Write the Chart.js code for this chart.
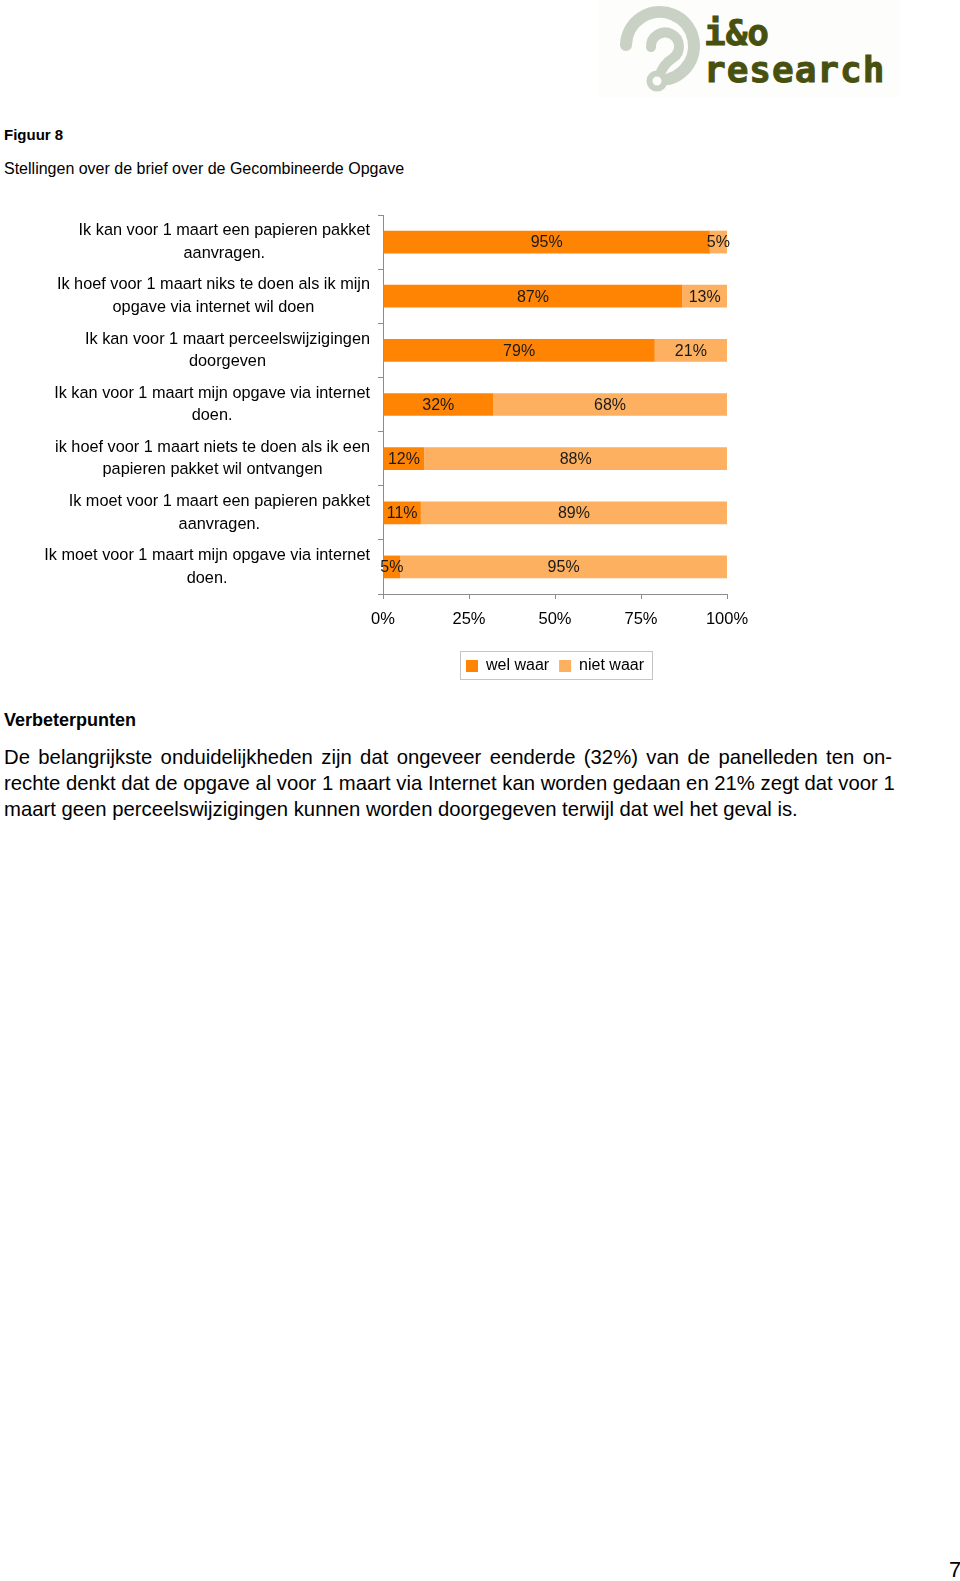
<!DOCTYPE html>
<html><head><meta charset="utf-8">
<script src="https://cdn.jsdelivr.net/npm/chart.js@4.4.0/dist/chart.umd.min.js"></script>
<style>
html,body{margin:0;padding:0;background:#fff;}
body{width:960px;height:1581px;position:relative;overflow:hidden;font-family:"Liberation Sans",Arial,sans-serif;color:#000;}
.t{position:absolute;left:4px;white-space:nowrap;}
#fig{top:125px;font-size:15px;font-weight:bold;line-height:20px;}
#sub{top:159px;font-size:16px;line-height:20px;}
#verb{top:709px;font-size:18px;font-weight:bold;line-height:22px;}
.pl{position:absolute;left:4px;width:888px;font-size:20.3px;line-height:25px;white-space:nowrap;}
.just{text-align:justify;text-align-last:justify;}
#p1{top:745px;} #p2{top:771px;} #p3{top:797px;}
#pg{position:absolute;left:949px;top:1557px;font-size:22px;line-height:26px;}
#logo{position:absolute;left:598px;top:0;width:302px;height:97px;background:#fdfdfb;}
#chartWrap{position:absolute;left:0;top:200px;width:760px;height:490px;}
</style>
</head><body>
<div id="logo">
<svg width="302" height="97" viewBox="598 0 302 97" xmlns="http://www.w3.org/2000/svg">
  <g fill="none" stroke="#c8d1c4" stroke-linecap="round">
    <path d="M626 45 A34 34 0 1 1 684 70 Q677 77 669 79" stroke-width="12"/>
    <path d="M651 47 A14 14 0 1 1 673 58 Q664 64 661 72" stroke-width="10"/>
    <circle cx="657" cy="81" r="7.5" stroke-width="6"/>
  </g>
  <g font-family="DejaVu Sans Mono, monospace" font-weight="bold" font-size="36" fill="#47500f" stroke="#47500f" stroke-width="0.9">
    <text x="704" y="45">i&amp;o</text>
    <text x="704" y="82" letter-spacing="1">research</text>
  </g>
</svg>
</div>
<div class="t" id="fig">Figuur 8</div>
<div class="t" id="sub">Stellingen over de brief over de Gecombineerde Opgave</div>
<div id="chartWrap"><canvas id="c" width="760" height="490"></canvas></div>
<div class="t" id="verb">Verbeterpunten</div>
<div class="pl just" id="p1">De belangrijkste onduidelijkheden zijn dat ongeveer eenderde (32%) van de panelleden ten on-</div>
<div class="pl just" id="p2">rechte denkt dat de opgave al voor 1 maart via Internet kan worden gedaan en 21% zegt dat voor 1</div>
<div class="pl" id="p3">maart geen perceelswijzigingen kunnen worden doorgegeven terwijl dat wel het geval is.</div>
<div id="pg">7</div>
<script>
const categories = [
  ["Ik kan voor 1 maart een papieren pakket", "aanvragen."],
  ["Ik hoef voor 1 maart niks te doen als ik mijn", "opgave via internet wil doen"],
  ["Ik kan voor 1 maart perceelswijzigingen", "doorgeven"],
  ["Ik kan voor 1 maart mijn opgave via internet", "doen."],
  ["ik hoef voor 1 maart niets te doen als ik een", "papieren pakket wil ontvangen"],
  ["Ik moet voor 1 maart een papieren pakket", "aanvragen."],
  ["Ik moet voor 1 maart mijn opgave via internet", "doen."]
];
const welWaar = [95, 87, 79, 32, 12, 11, 5];
const nietWaar = [5, 13, 21, 68, 88, 89, 95];
const xTickValues = [0, 25, 50, 75, 100];
const seriesNames = ["wel waar", "niet waar"];

const FAM = '"Liberation Sans", Arial, sans-serif';
const AXIS = '#8c8c8c';

const catLabelPlugin = {
  id: 'catLabels',
  afterDraw(chart) {
    const ctx = chart.ctx, ys = chart.scales.y;
    ctx.save();
    ctx.font = '16.3px ' + FAM;
    ctx.fillStyle = '#000';
    ctx.textAlign = 'center';
    ctx.textBaseline = 'middle';
    const right = ys.right - 13;
    chart.data.labels.forEach((lines, i) => {
      const yc = ys.getPixelForValue(i);
      const w = Math.max(...lines.map(l => ctx.measureText(l).width));
      const cx = right - w / 2;
      lines.forEach((l, j) => ctx.fillText(l, cx, yc + (j - (lines.length - 1) / 2) * 22.5));
    });
    ctx.restore();
  }
};

const valueLabelPlugin = {
  id: 'valueLabels',
  afterDatasetsDraw(chart) {
    const ctx = chart.ctx;
    ctx.save();
    ctx.font = '16px ' + FAM;
    ctx.fillStyle = '#1a1a1a';
    ctx.textAlign = 'center';
    ctx.textBaseline = 'middle';
    chart.data.datasets.forEach((ds, di) => {
      const meta = chart.getDatasetMeta(di);
      meta.data.forEach((el, i) => {
        ctx.fillText(ds.data[i] + '%', (el.x + el.base) / 2, el.y + 1);
      });
    });
    ctx.restore();
  }
};

const legendBoxPlugin = {
  id: 'legendBox',
  afterDraw(chart) {
    const hb = chart.legend && chart.legend.legendHitBoxes;
    if (!hb || !hb.length) return;
    const ctx = chart.ctx;
    const last = hb[hb.length - 1];
    const l = Math.round(hb[0].left - 6), r = Math.round(last.left + last.width + 8);
    const t = Math.round(hb[0].top - 7), b = Math.round(hb[0].top + hb[0].height + 5);
    ctx.save();
    ctx.strokeStyle = '#c4c4c4';
    ctx.lineWidth = 1;
    ctx.strokeRect(l + 0.5, t + 0.5, r - l, b - t);
    ctx.restore();
  }
};

new Chart(document.getElementById('c'), {
  type: 'bar',
  data: {
    labels: categories,
    datasets: [
      { label: seriesNames[0], data: welWaar, backgroundColor: '#ff8404', borderWidth: 0,
        categoryPercentage: 0.42, barPercentage: 1 },
      { label: seriesNames[1], data: nietWaar, backgroundColor: '#fcb060', borderWidth: 0,
        categoryPercentage: 0.42, barPercentage: 1 }
    ]
  },
  options: {
    indexAxis: 'y',
    responsive: false,
    animation: false,
    devicePixelRatio: 1,
    layout: { padding: { top: 15, right: 33, bottom: 6, left: 0 } },
    scales: {
      x: {
        stacked: true, min: 0, max: 100,
        afterBuildTicks(s) { s.ticks = xTickValues.map(v => ({ value: v })); },
        afterFit(s) { s.height = 54; },
        grid: { drawOnChartArea: false, drawTicks: true, tickLength: 5, color: AXIS },
        border: { display: true, color: AXIS },
        ticks: { callback: v => v + '%', color: '#000', padding: 11, maxRotation: 0,
                 font: { family: FAM, size: 16.5 } }
      },
      y: {
        stacked: true,
        afterFit(s) { s.width = 383; },
        grid: { offset: true, drawOnChartArea: false, drawTicks: true, tickLength: 5, color: AXIS },
        border: { display: true, color: AXIS },
        ticks: { display: false }
      }
    },
    plugins: {
      legend: {
        position: 'bottom', fullSize: false,
        labels: { boxWidth: 12, boxHeight: 12, padding: 10, color: '#000',
                  font: { family: FAM, size: 16 } }
      },
      tooltip: { enabled: false }
    }
  },
  plugins: [catLabelPlugin, valueLabelPlugin, legendBoxPlugin]
});
</script>
</body></html>
